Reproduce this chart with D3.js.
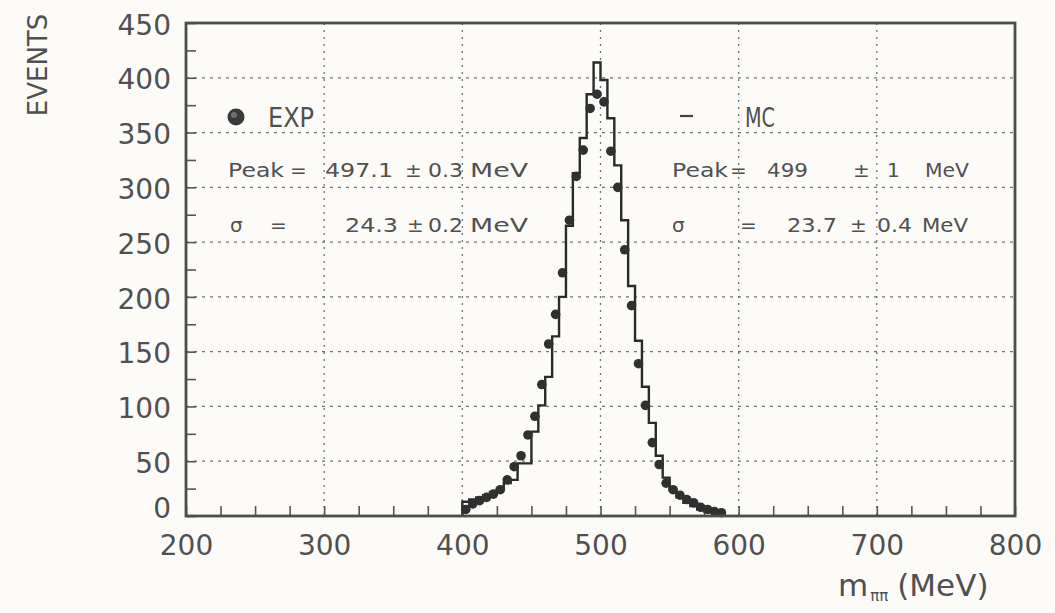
<!DOCTYPE html>
<html>
<head>
<meta charset="utf-8">
<script src="https://cdn.jsdelivr.net/npm/d3@7"></script>
<style>
  html, body { margin: 0; padding: 0; background: #fcfbf8; }
  svg { display: block; }
  text { font-family: "DejaVu Sans", "Liberation Sans", sans-serif; fill: #505050; }
</style>
</head>
<body>
<svg id="chart" width="1055" height="613"></svg>
<script>
// ---------- data ----------
const binLow = [400,405,410,415,420,425,430,435,440,445,450,455,460,465,470,475,480,485,490,495,
                500,505,510,515,520,525,530,535,540,545,550,555,560,565,570,575,580,585];
const binWidth = 5;
const expCounts = [6,11,14,17,20,24,33,45,55,74,91,120,157,184,222,270,310,334,372,385,
                   378,333,300,243,192,139,101,67,47,30,24,19,15,12,8,6,4,3];
const mcCounts  = [13,15,17,19,22,25,30,33,48,48,77,101,127,164,200,265,313,345,385,414,
                   398,363,320,270,210,160,118,85,55,35,24,17,12,9,6,4,3,2];
const xTicksLabel = [200,300,400,500,600,700,800];
const yTicksLabel = [0,50,100,150,200,250,300,350,400,450];
const xMinorTicks = d3.range(200, 801, 25);
const yMinorTicks = d3.range(0, 451, 25);
const xGrid = [300,400,500,600,700];
const yGrid = [50,100,150,200,250,300,350,400];
const statsExp = [["Peak","=","497.1","±","0.3","MeV"],["σ","=","24.3","±","0.2","MeV"]];
const statsMc  = [["Peak","=","499","±","1","MeV"],["σ","=","23.7","±","0.4","MeV"]];

// ---------- layout ----------
const L = 186, R = 1015, T = 23, B = 516;
const svg = d3.select("#chart");
const x = d3.scaleLinear().domain([200, 800]).range([L, R]);
const y = d3.scaleLinear().domain([0, 450]).range([B, T]);

// grid
const g = svg.append("g");
g.selectAll(".vg").data(xGrid).join("line")
  .attr("x1", d => x(d)).attr("x2", d => x(d)).attr("y1", T).attr("y2", B)
  .attr("stroke", "#6f6f78").attr("stroke-width", 1.3).attr("stroke-dasharray", "2,5");
g.selectAll(".hg").data(yGrid).join("line")
  .attr("x1", L).attr("x2", R).attr("y1", d => y(d)).attr("y2", d => y(d))
  .attr("stroke", "#6f6f78").attr("stroke-width", 1.3).attr("stroke-dasharray", "3,5");

// inward ticks
svg.append("g").attr("transform", `translate(${L},0)`)
  .call(d3.axisRight(y).tickValues(yMinorTicks).tickSize(10).tickFormat(""))
  .call(s => s.select(".domain").remove())
  .selectAll("line").attr("stroke", "#555").attr("stroke-width", 1.6);
svg.append("g").attr("transform", `translate(0,${B})`)
  .call(d3.axisTop(x).tickValues(xMinorTicks).tickSize(10).tickFormat(""))
  .call(s => s.select(".domain").remove())
  .selectAll("line").attr("stroke", "#555").attr("stroke-width", 1.6);

// tick labels
const yAx = svg.append("g").attr("transform", `translate(${L},0)`)
  .call(d3.axisLeft(y).tickValues(yTicksLabel).tickSize(0).tickPadding(15));
yAx.select(".domain").remove();
yAx.selectAll("text").attr("font-size", 28).attr("font-family", "DejaVu Sans").attr("fill", "#505050")
  .attr("dy", d => d === 0 ? "0.05em" : "0.4em");
const xAx = svg.append("g").attr("transform", `translate(0,${B})`)
  .call(d3.axisBottom(x).tickValues(xTicksLabel).tickSize(0).tickPadding(19));
xAx.select(".domain").remove();
xAx.selectAll("text").attr("font-size", 28).attr("font-family", "DejaVu Sans").attr("fill", "#505050");

// MC histogram (step outline)
const pts = [[binLow[0], 0]];
binLow.forEach((b, i) => { pts.push([b, mcCounts[i]]); pts.push([b + binWidth, mcCounts[i]]); });
pts.push([binLow[binLow.length - 1] + binWidth, 0]);
svg.append("path").datum(pts)
  .attr("d", d3.line().x(d => x(d[0])).y(d => y(d[1])))
  .attr("fill", "none").attr("stroke", "#2a2a2a").attr("stroke-width", 2.4);

// EXP points
svg.append("g").selectAll("circle").data(binLow).join("circle")
  .attr("cx", d => x(d + binWidth / 2))
  .attr("cy", (d, i) => y(expCounts[i]))
  .attr("r", 4.8).attr("fill", "#303030");

// frame
svg.append("rect").attr("x", L).attr("y", T).attr("width", R - L).attr("height", B - T)
  .attr("fill", "none").attr("stroke", "#4d4d4d").attr("stroke-width", 2.8);

// axis titles
svg.append("text").attr("transform", "translate(47,65) rotate(-90)")
  .attr("text-anchor", "middle").attr("font-size", 26).text("EVENTS");
const xt = svg.append("text").attr("x", 838).attr("y", 596).attr("font-size", 31);
xt.append("tspan").text("m");
xt.append("tspan").attr("font-size", 15).attr("dy", 5).attr("dx", 2).text("ππ");
xt.append("tspan").attr("dy", -5).attr("dx", 9).text("(MeV)");

// legend
svg.append("circle").attr("cx", 236).attr("cy", 117).attr("r", 8.5).attr("fill", "#3a3a3a");
svg.append("circle").attr("cx", 234).attr("cy", 115).attr("r", 3).attr("fill", "#707070");
svg.append("text").attr("x", 268).attr("y", 127).attr("font-size", 26)
  .attr("textLength", 46).attr("lengthAdjust", "spacingAndGlyphs").text("EXP");
svg.append("line").attr("x1", 680).attr("x2", 693).attr("y1", 116).attr("y2", 116)
  .attr("stroke", "#444").attr("stroke-width", 2.2);
svg.append("text").attr("x", 745).attr("y", 127).attr("font-size", 26)
  .attr("textLength", 30).attr("lengthAdjust", "spacingAndGlyphs").text("MC");

// stats text
const expPos = [[228,56],[290,15],[325,68],[405,12],[428,35],[470,58]];
const expPos2 = [[230,10],[270,12],[345,53],[407,12],[428,35],[470,58]];
const mcPos = [[672,56],[730,15],[767,41],[853,15],[887,7],[925,44]];
const mcPos2 = [[672,10],[740,12],[787,50],[850,13],[877,35],[922,46]];
function drawRow(tokens, pos, yb) {
  tokens.forEach((t, i) => {
    const tx = svg.append("text").attr("x", pos[i][0]).attr("y", yb).attr("font-size", 20).text(t);
    if (t.length > 1) tx.attr("textLength", pos[i][1]).attr("lengthAdjust", "spacingAndGlyphs");
  });
}
drawRow(statsExp[0], expPos, 177);
drawRow(statsExp[1], expPos2, 232);
drawRow(statsMc[0], mcPos, 177);
drawRow(statsMc[1], mcPos2, 232);
</script>
</body>
</html>
